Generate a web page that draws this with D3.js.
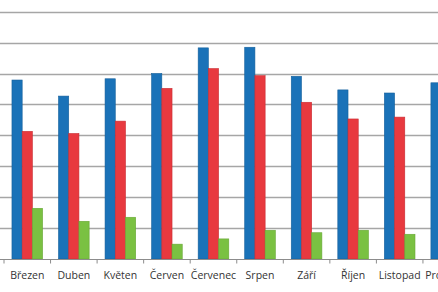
<!DOCTYPE html>
<html><head><meta charset="utf-8">
<script src="https://cdn.jsdelivr.net/npm/d3@7"></script>
<style>html,body{margin:0;padding:0;background:#fff;overflow:hidden}</style>
</head><body>
<svg id="c" width="438" height="292"></svg>
<script>
const months = ["Březen","Duben","Květen","Červen","Červenec","Srpen","Září","Říjen","Listopad","Prosinec"];
const seriesBlue  = [579, 527, 583, 600, 683, 685, 591, 547, 537, 570];
const seriesRed   = [413, 406, 446, 552, 616, 593, 507, 453, 459, null];
const seriesGreen = [164, 122, 135, 48, 65, 93, 85, 93, 80, null];
const yTicks = [0,100,200,300,400,500,600,700,800];
const colors = ["#1a72b8","#e8393f","#7ac142"];
const strokes = ["#15609c","#c92d33","#68a736"];

const svg = d3.select("#c");
const W = 438;
const x = d3.scaleBand().domain(months).range([4, 4 + 46.55*months.length]).paddingInner(0).paddingOuter(0);
const y = d3.scaleLinear().domain([0, 800]).range([259, 11.7]);
const inner = d3.scaleBand().domain([0,1,2]).range([x.bandwidth()*0.171, x.bandwidth()*0.829]);

// gridlines
svg.append("g").selectAll("line").data(yTicks.slice(1)).join("line")
  .attr("x1",0).attr("x2",W).attr("y1",d=>Math.round(y(d))+0.5).attr("y2",d=>Math.round(y(d))+0.5)
  .attr("stroke","#a6a6a6").attr("stroke-width",1.3);

const series = [seriesBlue, seriesRed, seriesGreen];
series.forEach((s,i)=>{
  svg.append("g").selectAll("rect").data(months.map((m,j)=>({m,v:s[j]})).filter(d=>d.v!=null)).join("rect")
    .attr("x",d=>x(d.m)+inner(i)).attr("width",inner.bandwidth())
    .attr("y",d=>y(d.v)).attr("height",d=>y(0)-y(d.v))
    .attr("fill",colors[i]).attr("stroke",strokes[i]).attr("stroke-width",0.6);
});

// x axis
const ax = svg.append("g").attr("transform",`translate(0,${Math.round(y(0))+0.5})`);
ax.append("line").attr("x1",0).attr("x2",W).attr("stroke","#8c8c8c").attr("stroke-width",1.2);
const bounds = months.map(m=>x(m));
ax.selectAll("line.t").data(bounds).join("line").attr("class","t")
  .attr("x1",d=>d).attr("x2",d=>d).attr("y1",0).attr("y2",4).attr("stroke","#8c8c8c");
ax.selectAll("text").data(months).join("text")
  .attr("x",d=>x(d)+x.bandwidth()/2).attr("y",19)
  .attr("text-anchor","middle").attr("font-family","'Open Sans', sans-serif").attr("font-size",10.5)
  .attr("fill","#333").text(d=>d);
</script>
</body></html>
